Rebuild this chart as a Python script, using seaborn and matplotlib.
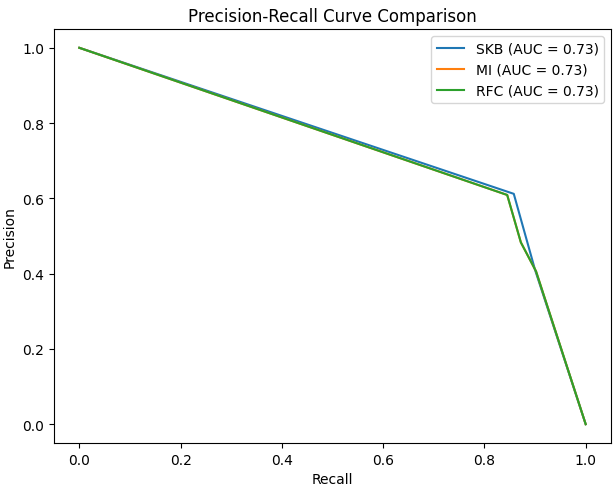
import matplotlib
matplotlib.use("Agg")
import matplotlib.pyplot as plt
import seaborn as sns
import pandas as pd

# Precision-recall points for each feature-selection method
skb_recall = [0.0, 0.858, 0.900, 1.0]
skb_precision = [1.0, 0.612, 0.410, 0.0]
mi_recall = [0.0, 0.845, 0.872, 0.902, 1.0]
mi_precision = [1.0, 0.609, 0.483, 0.406, 0.0]
rfc_recall = [0.0, 0.845, 0.872, 0.902, 1.0]
rfc_precision = [1.0, 0.609, 0.483, 0.406, 0.0]
auc_scores = {"SKB": 0.73, "MI": 0.73, "RFC": 0.73}

curves = {
    "SKB": (skb_recall, skb_precision),
    "MI": (mi_recall, mi_precision),
    "RFC": (rfc_recall, rfc_precision),
}
colors = {"SKB": "#1f77b4", "MI": "#ff7f0e", "RFC": "#2ca02c"}

fig = plt.figure(figsize=(6.15, 4.89), dpi=100)
ax = fig.add_axes([0.0878, 0.092, 0.9057, 0.8467])

for name, (rec, prec) in curves.items():
    df = pd.DataFrame({"Recall": rec, "Precision": prec})
    sns.lineplot(data=df, x="Recall", y="Precision", ax=ax, sort=False,
                 estimator=None, color=colors[name],
                 label=f"{name} (AUC = {auc_scores[name]:.2f})")

ax.set_xlabel("Recall")
ax.set_ylabel("Precision")
ax.set_title("Precision-Recall Curve Comparison")
ax.legend(loc="upper right")

fig.savefig("out.png", dpi=100)
